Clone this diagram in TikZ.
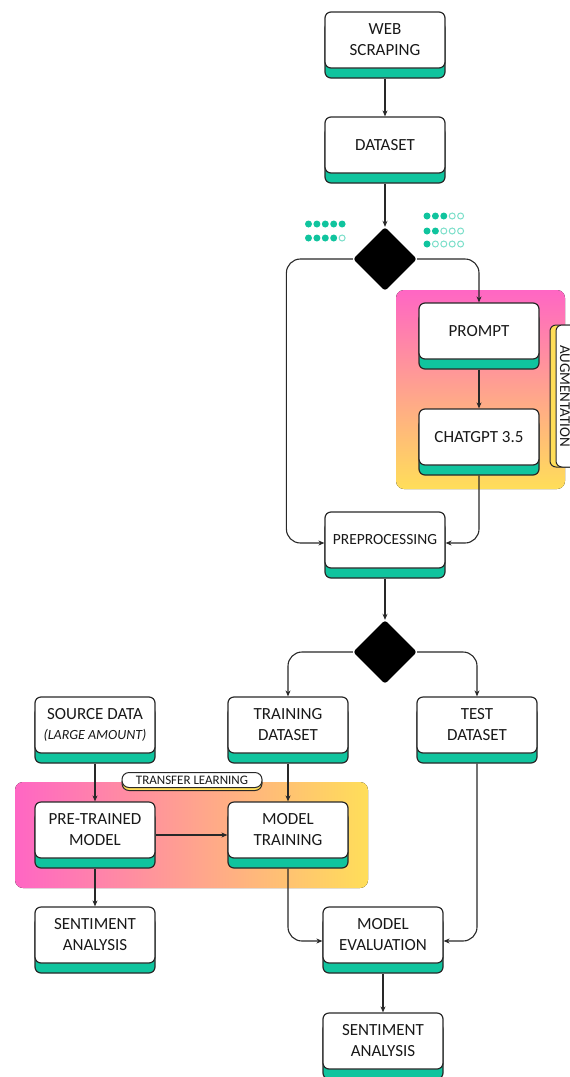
\documentclass[tikz,border=0pt]{standalone}
\usepackage{fontspec}
\setmainfont{Carlito}
\usetikzlibrary{shapes.geometric,shadows,arrows.meta}
\definecolor{tealc}{RGB}{16,196,158}
\definecolor{pinkc}{RGB}{255,102,196}
\definecolor{yelc}{RGB}{255,222,89}
\definecolor{linec}{RGB}{40,40,40}
\definecolor{textc}{RGB}{25,25,25}
\begin{document}
\begin{tikzpicture}[x=1pt,y=-1pt,
  box/.style={draw=linec, line width=1.2pt, fill=white, rounded corners=6pt,
    minimum width=120pt, minimum height=56pt, align=center, inner sep=2pt,
    text=textc, font=\fontsize{17}{21}\selectfont,
    general shadow={shadow yshift=-10pt, fill=tealc, draw=linec, line width=1.2pt}},
  dia/.style={diamond, fill=black, minimum width=64pt, minimum height=64pt,
    inner sep=0pt, rounded corners=3pt},
  arr/.style={draw=linec, line width=1.1pt, -{Stealth[length=6pt,width=5pt]},
    rounded corners=14pt},
  fdot/.style={fill=tealc},
  edot/.style={draw=tealc!55, line width=1pt, fill=white},
  tag/.style={draw=linec, line width=1pt, fill=white, text=textc}]
\useasboundingbox (0,0) rectangle (570,1077);

% gradient panels
\fill[top color=pinkc, bottom color=yelc, rounded corners=8pt] (396,290) rectangle (565,489);
\fill[left color=pinkc, right color=yelc, rounded corners=8pt] (15,782) rectangle (368,888);

% augmentation tag
\draw[tag, fill=yelc, rounded corners=6pt] (550,325) rectangle (600,467);
\draw[tag, rounded corners=6pt] (556,325) rectangle (606,467);
\node[rotate=-90, text=textc, font=\fontsize{15}{17}\selectfont, inner sep=0pt] (aug) at (565,396) {AUGMENTATION};

% dots
\foreach \i in {0,...,4} \fill[fdot] ({308.5+8.4*\i},224) circle (3.5pt);
\foreach \i in {0,...,3} \fill[fdot] ({308.5+8.4*\i},238) circle (3.5pt);
\draw[edot] ({308.5+8.4*4},238) circle (3pt);
\foreach \r/\n in {216/3,231/2,244/1}{
  \foreach \i in {1,...,5}{
    \ifnum\i>\n
      \draw[edot] ({418.6+8.4*\i},\r) circle (3pt);
    \else
      \fill[fdot] ({418.6+8.4*\i},\r) circle (3.5pt);
    \fi
  }
}

% nodes
\node[box] (web) at (385,40) {WEB\\SCRAPING};
\node[box] (data) at (385,145) {DATASET};
\node[dia] (d1) at (385,259) {};
\node[box] (prompt) at (479,331) {PROMPT};
\node[box] (chat) at (479,437) {CHATGPT 3.5};
\node[box, font=\fontsize{15.5}{19}\selectfont] (pre) at (385,540) {PREPROCESSING};
\node[dia] (d2) at (385,652) {};
\node[box] (src) at (95,725) {SOURCE DATA\\[-1pt]{\fontsize{14}{17}\selectfont\itshape (LARGE AMOUNT)}};
\node[box] (tds) at (288,725) {TRAINING\\DATASET};
\node[box] (test) at (477,725) {TEST\\DATASET};
\node[box] (ptm) at (95,830) {PRE-TRAINED\\MODEL};
\node[box] (mtrain) at (288,830) {MODEL\\TRAINING};
\node[box] (sa1) at (95,935) {SENTIMENT\\ANALYSIS};
\node[box] (meval) at (383,935) {MODEL\\EVALUATION};
\node[box] (sa2) at (383,1041) {SENTIMENT\\ANALYSIS};

\node[tag, rounded corners=7pt, minimum width=140pt, minimum height=15pt, inner sep=1pt,
  font=\fontsize{13}{15}\selectfont,
  general shadow={shadow yshift=-3pt, fill=yelc, draw=linec, line width=1pt}]
  (tl) at (192,780) {TRANSFER LEARNING};

% connectors
\draw[arr] ([yshift=-10pt]web.south) -- (data.north);
\draw[arr] ([yshift=-10pt]data.south) -- (d1.north);
\draw[arr] (d1.west) -| ([xshift=-38pt,yshift=-3pt]pre.west) -- ([yshift=-3pt]pre.west);
\draw[arr] (d1.east) -| (prompt.north);
\draw[arr] ([yshift=-10pt]prompt.south) -- (chat.north);
\draw[arr] ([yshift=-10pt]chat.south) |- ([yshift=-3pt]pre.east);
\draw[arr] ([yshift=-10pt]pre.south) -- (d2.north);
\draw[arr] (d2.west) -| (tds.north);
\draw[arr] (d2.east) -| (test.north);
\draw[arr] ([yshift=-10pt]src.south) -- (ptm.north);
\draw[arr] ([yshift=-10pt]tds.south) -- (mtrain.north);
\draw[arr] ([yshift=-5pt]ptm.east) -- ([yshift=-5pt]mtrain.west);
\draw[arr] ([yshift=-10pt]ptm.south) -- (sa1.north);
\draw[arr] ([yshift=-10pt]mtrain.south) |- ([yshift=-6pt]meval.west);
\draw[arr] ([yshift=-10pt]test.south) |- ([yshift=-6pt]meval.east);
\draw[arr] ([yshift=-10pt]meval.south) -- (sa2.north);
\end{tikzpicture}
\end{document}
